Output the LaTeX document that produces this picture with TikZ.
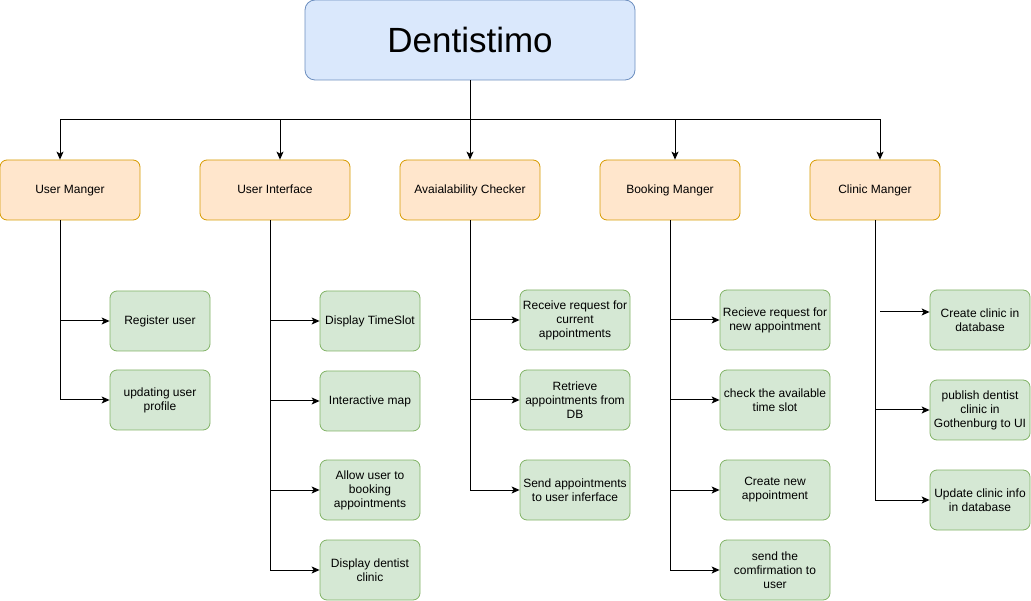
\documentclass[tikz,border=0pt]{standalone}
\usepackage{fontspec}
\setmainfont{Liberation Sans}
\usetikzlibrary{arrows.meta}

\definecolor{titlefill}{HTML}{DAE8FC}
\definecolor{titleline}{HTML}{6C8EBF}
\definecolor{modfill}{HTML}{FFE6CC}
\definecolor{modline}{HTML}{D79B00}
\definecolor{taskfill}{HTML}{D5E8D4}
\definecolor{taskline}{HTML}{82B366}

\tikzset{
  titlebox/.style={draw=titleline, fill=titlefill, rounded corners=10pt, line width=0.8pt,
    minimum width=330pt, minimum height=80pt, inner sep=0pt, font=\fontsize{35}{40}\selectfont},
  modbox/.style={draw=modline, fill=modfill, rounded corners=7pt, line width=0.8pt,
    minimum height=60pt, inner sep=0pt, text height=8.6pt, text depth=2pt,
    font=\fontsize{12}{14}\selectfont},
  taskbox/.style={draw=taskline, fill=taskfill, rounded corners=7pt, line width=0.8pt,
    minimum height=60pt, inner sep=0pt, align=center, font=\fontsize{12}{14}\selectfont},
  link/.style={line width=1pt, -{Stealth[length=8pt,width=7pt,inset=2pt]}},
  plainlink/.style={line width=1pt}
}

\begin{document}
\begin{tikzpicture}[x=1pt, y=-1pt]
\useasboundingbox (0,0) rectangle (1031,601);

% top
\node (title) [titlebox] at (470,40) {Dentistimo};

% modules
\node (um) [modbox, minimum width=140pt] at (70,190) {User Manger};
\node (ui) [modbox, minimum width=150pt] at (275,190) {User Interface};
\node (ac) [modbox, minimum width=140pt] at (470,190) {Avaialability Checker};
\node (bm) [modbox, minimum width=140pt] at (670,190) {Booking Manger};
\node (cm) [modbox, minimum width=130pt] at (875,190) {Clinic Manger};

% tasks
\node (um1) [taskbox, minimum width=100pt] at (160,321) {Register user};
\node (um2) [taskbox, minimum width=100pt] at (160,400) {updating user\\profile};

\node (ui1) [taskbox, minimum width=100pt] at (370,321) {Display TimeSlot};
\node (ui2) [taskbox, minimum width=100pt] at (370,401) {Interactive map};
\node (ui3) [taskbox, minimum width=100pt] at (370,490) {Allow user to\\booking\\appointments};
\node (ui4) [taskbox, minimum width=100pt] at (370,570) {Display dentist\\clinic};

\node (ac1) [taskbox, minimum width=110pt] at (575,320) {Receive request for\\current\\appointments};
\node (ac2) [taskbox, minimum width=110pt] at (575,400) {Retrieve\\appointments from\\DB};
\node (ac3) [taskbox, minimum width=110pt] at (575,490) {Send appointments\\to user inferface};

\node (bm1) [taskbox, minimum width=110pt] at (775,320) {Recieve request for\\new appointment};
\node (bm2) [taskbox, minimum width=110pt] at (775,400) {check the available\\time slot};
\node (bm3) [taskbox, minimum width=110pt] at (775,490) {Create new\\appointment};
\node (bm4) [taskbox, minimum width=110pt] at (775,570) {send the\\comfirmation to\\user};

\node (cm1) [taskbox, minimum width=100pt] at (980,320) {Create clinic in\\database};
\node (cm2) [taskbox, minimum width=100pt] at (980,410) {publish dentist\\clinic in\\Gothenburg to UI};
\node (cm3) [taskbox, minimum width=100pt] at (980,500) {Update clinic info\\in database};

% bus from the top box
\coordinate (bus) at (470,120);
\draw[plainlink] (title.south) -- (bus);
\draw[link] (bus) -| ([xshift=-10pt]um.north);
\draw[link] (bus) -| ([xshift=5pt]ui.north);
\draw[link] (bus) -- (ac.north);
\draw[link] (bus) -| ([xshift=5pt]bm.north);
\draw[link] (bus) -| ([xshift=5pt]cm.north);

% module branches
\draw[link] ([xshift=-10pt]um.south) |- (um1);
\draw[link] ([xshift=-10pt]um.south) |- (um2);

\draw[link] ([xshift=-5pt]ui.south) |- (ui1);
\draw[link] ([xshift=-5pt]ui.south) |- (ui2);
\draw[link] ([xshift=-5pt]ui.south) |- (ui3);
\draw[link] ([xshift=-5pt]ui.south) |- (ui4);

\draw[link] (ac.south) |- (ac1);
\draw[link] (ac.south) |- (ac2);
\draw[link] (ac.south) |- (ac3);

\draw[link] (bm.south) |- (bm1);
\draw[link] (bm.south) |- (bm2);
\draw[link] (bm.south) |- (bm3);
\draw[link] (bm.south) |- (bm4);

\coordinate (cmfree) at (880,312);
\draw[link] (cmfree) -- (cm1.west |- cmfree);
\draw[link] (cm.south) |- (cm2);
\draw[link] (cm.south) |- (cm3);
\end{tikzpicture}
\end{document}
